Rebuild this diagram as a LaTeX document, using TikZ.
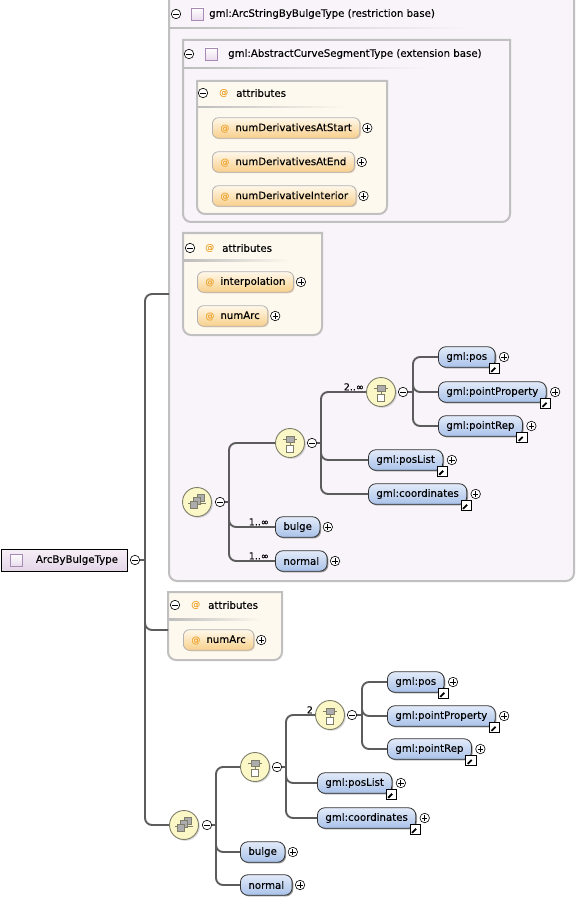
\documentclass[tikz,border=0pt]{standalone}
\usepackage{fontspec}
\setmainfont{DejaVu Sans}[FakeBold=0.1]
\usetikzlibrary{shadows}
\definecolor{lavfill}{HTML}{F8F4F9}
\definecolor{boxborder}{HTML}{C0C0C0}
\definecolor{attrboxfill}{HTML}{FEF9EF}
\definecolor{sepgray}{HTML}{BDBDBD}
\definecolor{elemtop}{HTML}{E2EBF9}
\definecolor{elembot}{HTML}{A9C1E9}
\definecolor{attrtop}{HTML}{FFF8EA}
\definecolor{attrbot}{HTML}{F8CF8A}
\definecolor{atcolor}{HTML}{F0A838}
\definecolor{iconfill}{HTML}{FBF7C6}
\definecolor{iconborder}{HTML}{7E7E6A}
\definecolor{roottop}{HTML}{F6EFF7}
\definecolor{rootbot}{HTML}{E4D5E8}
\definecolor{sqborder}{HTML}{A78AB6}
\definecolor{sqfill}{HTML}{E9DCEC}
\definecolor{linegray}{HTML}{5C5C5C}
\newcommand{\atsign}{\textcolor{atcolor}{\fontsize{9}{10}\selectfont @}}
\begin{document}
\begin{tikzpicture}[x=1pt,y=-1pt,font=\fontsize{10.2}{12}\selectfont,
  conn/.style={draw=linegray,line width=1.9pt,rounded corners=7pt},
  cbox/.style={draw=boxborder,line width=2pt,fill=lavfill},
  abox/.style={draw=boxborder,line width=2pt,fill=attrboxfill},
  elem/.style={draw=black!80,line width=0.8pt,rounded corners=7.5pt,top color=elemtop,bottom color=elembot,
    minimum height=20.5pt,inner xsep=8pt,inner ysep=0pt,anchor=west,
    drop shadow={shadow xshift=1.2pt,shadow yshift=-1.2pt,opacity=0.55,fill=black!75}},
  attr/.style={draw=black!30,line width=0.8pt,rounded corners=6pt,top color=attrtop,bottom color=attrbot,
    minimum height=20.5pt,inner xsep=8pt,inner ysep=0pt,anchor=west,
    drop shadow={shadow xshift=1.2pt,shadow yshift=-1pt,opacity=0.45,fill=brown!70}},
  pmbase/.style={circle,draw=black,line width=0.6pt,fill=white,minimum size=9.5pt,inner sep=0pt},
  minus/.style={pmbase,path picture={\draw[line width=0.8pt] ([xshift=-2.7pt]path picture bounding box.center) -- ([xshift=2.7pt]path picture bounding box.center);}},
  plus/.style={pmbase,path picture={\draw[line width=0.8pt] ([xshift=-2.7pt]path picture bounding box.center) -- ([xshift=2.7pt]path picture bounding box.center);
     \draw[line width=0.8pt] ([yshift=-2.7pt]path picture bounding box.center) -- ([yshift=2.7pt]path picture bounding box.center);}},
  linkic/.style={rectangle,draw=black,line width=0.9pt,fill=white,minimum size=10.5pt,inner sep=0pt,
    path picture={\begin{scope}[shift={(path picture bounding box.center)}]
      \draw[line width=1.8pt] (-3.2,3.2) -- (1,-1);
      \fill (3.8,-3.8) -- (-1.8,-3.8) -- (3.8,1.8) -- cycle;
    \end{scope}}},
  sqic/.style={rectangle,draw=sqborder,line width=0.8pt,top color=white,bottom color=sqfill,minimum size=12pt,inner sep=0pt},
  icbase/.style={circle,draw=iconborder,line width=0.9pt,fill=iconfill,minimum size=29pt,inner sep=0pt,
    drop shadow={shadow xshift=1.3pt,shadow yshift=-1.3pt,opacity=0.3}},
  choiceic/.style={icbase,path picture={\begin{scope}[shift={(path picture bounding box.center)}]
      \draw[line width=0.9pt] (-8.5,-3.5) -- (8.5,-3.5);
      \fill (-9.5,-4.7) rectangle (-7.3,-2.3); \fill (7.3,-4.7) rectangle (9.5,-2.3);
      \draw[line width=0.8pt,fill=gray!65] (-4,-6.5) rectangle (4,-0.5);
      \draw[line width=0.8pt] (0,-0.5) -- (0,2.5);
      \draw[line width=0.8pt,fill=white] (-3.5,2.5) rectangle (3.5,9.5);
    \end{scope}}},
  seqic/.style={icbase,path picture={\begin{scope}[shift={(path picture bounding box.center)}]
      \draw[line width=0.9pt] (-10,1.5) -- (10,1.5);
      \fill (-11,0.3) rectangle (-8.8,2.7); \fill (8.8,0.3) rectangle (11,2.7);
      \draw[line width=0.8pt,fill=gray!65] (0.5,-8) rectangle (7.5,-1);
      \draw[line width=0.8pt,fill=gray!65] (-3.5,-4.5) rectangle (3.5,2.5);
      \draw[line width=0.8pt,fill=gray!65] (-7,-1) rectangle (0,6);
    \end{scope}}},
  mult/.style={font=\fontsize{9.5}{10}\selectfont,inner sep=0pt,anchor=south east},
  hdr/.style={anchor=west,inner sep=0pt}]
\useasboundingbox (0,0) rectangle (576,901);

% ---------- restriction base box ----------
\draw[cbox] (169,-10) -- (574,-10) [rounded corners=8pt] -- (574,581) -- (169,581) [sharp corners] -- cycle;
\shade[left color=sepgray,right color=lavfill] (170,27.5) rectangle (470,29);
\node[minus] (mR) at (176,14) {};
\node[sqic] (iR) at (197.5,14) {};
\node[hdr] (hR) at (209,14) {gml:ArcStringByBulgeType (restriction base)};

% extension base box
\draw[cbox] (183,40) -- (510,40) [rounded corners=8pt] -- (510,222) -- (183,222) [sharp corners] -- cycle;
\shade[left color=sepgray,right color=lavfill] (184,67.5) rectangle (430,69);
\node[minus] (mE) at (189,54) {};
\node[sqic] (iE) at (211.5,54) {};
\node[hdr] (hE) at (228,54) {gml:AbstractCurveSegmentType (extension base)};

% attributes box 1
\draw[abox] (197,81) -- (387,81) [rounded corners=8pt] -- (387,214) -- (197,214) [sharp corners] -- cycle;
\shade[left color=sepgray,right color=attrboxfill] (198,106.5) rectangle (345,108);
\node[minus] (mA1) at (203,93) {};
\node[hdr] (atA1) at (219,93) {\atsign};
\node[hdr] (hA1) at (236,93) {attributes};
\node[attr] (a1) at (212,128) {\atsign\hspace{6pt}numDerivativesAtStart};
\node[plus] (pa1) at ([xshift=7pt]a1.east) {};
\node[attr] (a2) at (212,162) {\atsign\hspace{6pt}numDerivativesAtEnd};
\node[plus] (pa2) at ([xshift=7pt]a2.east) {};
\node[attr] (a3) at (212,196) {\atsign\hspace{6pt}numDerivativeInterior};
\node[plus] (pa3) at ([xshift=7pt]a3.east) {};

% attributes box 2
\draw[abox] (183,233) -- (322,233) [rounded corners=8pt] -- (322,335) -- (183,335) [sharp corners] -- cycle;
\shade[left color=sepgray,right color=attrboxfill] (184,259.5) rectangle (290,261);
\node[minus] (mA2) at (190,248) {};
\node[hdr] (atA2) at (205,248) {\atsign};
\node[hdr] (hA2) at (222,248) {attributes};
\node[attr] (b1) at (197,282) {\atsign\hspace{6pt}interpolation};
\node[plus] (pb1) at ([xshift=7pt]b1.east) {};
\node[attr] (b2) at (197,316) {\atsign\hspace{6pt}numArc};
\node[plus] (pb2) at ([xshift=7pt]b2.east) {};

% sequence 1
\node[seqic] (s1) at (197,502) {};
\node[minus] (ms1) at (220,502) {};
\coordinate (s1sp) at (229,502);
\node[choiceic] (c1) at (290,443) {};
\node[minus] (mc1) at (312,443) {};
\coordinate (c1sp) at (321,443);
\node[choiceic] (c2) at (381,392) {};
\node[minus] (mc2) at (403,392) {};
\coordinate (c2sp) at (413,392);

\node[elem] (pos) at (438,357) {gml:pos\hspace{3pt}};
\node[linkic] (lpos) at ([xshift=-1pt,yshift=-1pt]pos.south east) {};
\node[plus] (ppos) at ([xshift=8.5pt]pos.east) {};
\node[elem] (pp) at (438,392) {gml:pointProperty\hspace{3pt}};
\node[linkic] (lpp) at ([xshift=-1pt,yshift=-1pt]pp.south east) {};
\node[plus] (ppp) at ([xshift=8.5pt]pp.east) {};
\node[elem] (pr) at (438,426) {gml:pointRep\hspace{3pt}};
\node[linkic] (lpr) at ([xshift=-1pt,yshift=-1pt]pr.south east) {};
\node[plus] (ppr) at ([xshift=8.5pt]pr.east) {};
\node[elem] (pl) at (368,460) {gml:posList\hspace{3pt}};
\node[linkic] (lpl) at ([xshift=-1pt,yshift=-1pt]pl.south east) {};
\node[plus] (ppl) at ([xshift=8.5pt]pl.east) {};
\node[elem] (co) at (368,494) {gml:coordinates\hspace{3pt}};
\node[linkic] (lco) at ([xshift=-1pt,yshift=-1pt]co.south east) {};
\node[plus] (pco) at ([xshift=8.5pt]co.east) {};
\node[elem] (bu) at (275,527) {bulge};
\node[plus] (pbu) at ([xshift=7.5pt]bu.east) {};
\node[elem] (no) at (275,561) {normal};
\node[plus] (pno) at ([xshift=7.5pt]no.east) {};

\node[mult] (mu1) at ([xshift=-2pt,yshift=1.5pt]c2.west) {2..∞};
\node[mult] (mu2) at ([xshift=-6pt,yshift=1.5pt]bu.west) {1..∞};
\node[mult] (mu3) at ([xshift=-6pt,yshift=1.5pt]no.west) {1..∞};

\draw[conn] (ms1.east) -- (s1sp);
\draw[conn] (c1.west) -| (s1sp);
\draw[conn] (bu.west) -| (s1sp);
\draw[conn] (no.west) -| (s1sp);
\draw[conn] (mc1.east) -- (c1sp);
\draw[conn] (c2.west) -| (c1sp);
\draw[conn] (pl.west) -| (c1sp);
\draw[conn] (co.west) -| (c1sp);
\draw[conn] (mc2.east) -- (c2sp);
\draw[conn] (pos.west) -| (c2sp);
\draw[conn] (pp.west) -| (c2sp);
\draw[conn] (pr.west) -| (c2sp);

% ---------- attributes box 3 ----------
\draw[abox] (168,592) -- (282,592) [rounded corners=8pt] -- (282,660) -- (168,660) [sharp corners] -- cycle;
\shade[left color=sepgray,right color=attrboxfill] (169,618.5) rectangle (262,620);
\node[minus] (mA3) at (175,605) {};
\node[hdr] (atA3) at (191,605) {\atsign};
\node[hdr] (hA3) at (208,605) {attributes};
\node[attr] (d1) at (183,640) {\atsign\hspace{6pt}numArc};
\node[plus] (pd1) at ([xshift=7pt]d1.east) {};

% ---------- sequence 2 ----------
\node[seqic] (s2) at (184,825) {};
\node[minus] (ms2) at (207,825) {};
\coordinate (s2sp) at (216,825);
\node[choiceic] (c3) at (255,767) {};
\node[minus] (mc3) at (277,767) {};
\coordinate (c3sp) at (286,767);
\node[choiceic] (c4) at (330,715) {};
\node[minus] (mc4) at (352,715) {};
\coordinate (c4sp) at (362,715);

\node[elem] (pos2) at (387,682) {gml:pos\hspace{3pt}};
\node[linkic] (lpos2) at ([xshift=-1pt,yshift=-1pt]pos2.south east) {};
\node[plus] (ppos2) at ([xshift=8.5pt]pos2.east) {};
\node[elem] (pp2) at (387,716) {gml:pointProperty\hspace{3pt}};
\node[linkic] (lpp2) at ([xshift=-1pt,yshift=-1pt]pp2.south east) {};
\node[plus] (ppp2) at ([xshift=8.5pt]pp2.east) {};
\node[elem] (pr2) at (387,749) {gml:pointRep\hspace{3pt}};
\node[linkic] (lpr2) at ([xshift=-1pt,yshift=-1pt]pr2.south east) {};
\node[plus] (ppr2) at ([xshift=8.5pt]pr2.east) {};
\node[elem] (pl2) at (317,783) {gml:posList\hspace{3pt}};
\node[linkic] (lpl2) at ([xshift=-1pt,yshift=-1pt]pl2.south east) {};
\node[plus] (ppl2) at ([xshift=8.5pt]pl2.east) {};
\node[elem] (co2) at (317,818) {gml:coordinates\hspace{3pt}};
\node[linkic] (lco2) at ([xshift=-1pt,yshift=-1pt]co2.south east) {};
\node[plus] (pco2) at ([xshift=8.5pt]co2.east) {};
\node[elem] (bu2) at (240,852) {bulge};
\node[plus] (pbu2) at ([xshift=7.5pt]bu2.east) {};
\node[elem] (no2) at (240,885) {normal};
\node[plus] (pno2) at ([xshift=7.5pt]no2.east) {};

\node[mult] (mu4) at ([xshift=-2pt,yshift=1.5pt]c4.west) {2};

\draw[conn] (ms2.east) -- (s2sp);
\draw[conn] (c3.west) -| (s2sp);
\draw[conn] (bu2.west) -| (s2sp);
\draw[conn] (no2.west) -| (s2sp);
\draw[conn] (mc3.east) -- (c3sp);
\draw[conn] (c4.west) -| (c3sp);
\draw[conn] (pl2.west) -| (c3sp);
\draw[conn] (co2.west) -| (c3sp);
\draw[conn] (mc4.east) -- (c4sp);
\draw[conn] (pos2.west) -| (c4sp);
\draw[conn] (pp2.west) -| (c4sp);
\draw[conn] (pr2.west) -| (c4sp);

% ---------- root ----------
\node[rectangle,draw=black,line width=0.9pt,top color=roottop,bottom color=rootbot,minimum height=22pt,
  minimum width=126pt,inner xsep=0pt,inner ysep=0pt,anchor=west,
  drop shadow={shadow xshift=1.3pt,shadow yshift=-1.3pt,opacity=0.55}] (root) at (0.5,560) {\hspace{26pt}ArcByBulgeType};
\node[sqic] (iroot) at (16,560) {};
\node[minus] (mroot) at (135,560) {};
\coordinate (rootsp) at (145,560);
\coordinate (rbW) at (169,294);
\coordinate (ab3W) at (168,630);
\draw[conn] (mroot.east) -- (rootsp);
\draw[conn] (rbW) -| (rootsp);
\draw[conn] (ab3W) -| (rootsp);
\draw[conn] (s2.west) -| (rootsp);
\end{tikzpicture}
\end{document}
